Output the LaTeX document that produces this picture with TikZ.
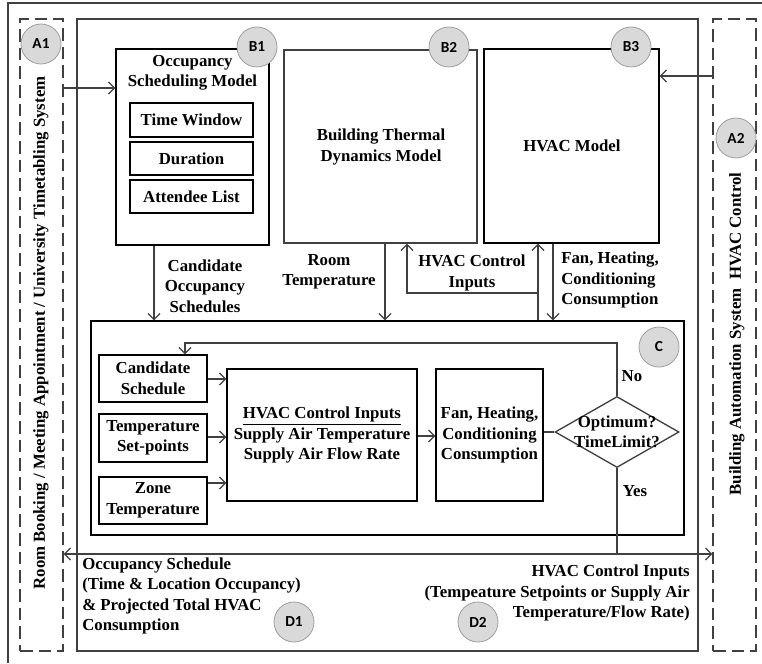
\documentclass[tikz,border=0pt]{standalone}
\usepackage{fontspec}
\setmainfont{Liberation Serif}
\newfontfamily\tagfont{Carlito}
\usetikzlibrary{arrows.meta}
\usetikzlibrary{shapes.geometric}
\usetikzlibrary{positioning}
\definecolor{linegray}{rgb}{0.25,0.25,0.25}
\definecolor{taggray}{rgb}{0.85,0.85,0.85}
\definecolor{tagedge}{rgb}{0.62,0.62,0.62}

\begin{document}
\begin{tikzpicture}[x=0.75pt,y=-0.75pt,
  every node/.style={font=\bfseries\fontsize{12.6}{15.4}\selectfont,inner sep=0pt},
  box/.style={draw=black,line width=1pt},
  grayframe/.style={draw=linegray,line width=1pt},
  sideframe/.style={draw=linegray,line width=1pt,dash pattern=on 9.5pt off 4.5pt},
  tag/.style={circle,draw=tagedge,fill=taggray,line width=0.6pt,minimum size=30pt,
    font=\tagfont\bfseries\fontsize{11.5}{12}\selectfont},
  arr/.style={draw=linegray,line width=0.9pt,-{Straight Barb[length=4.5pt,width=9pt]}},
  conn/.style={draw=linegray,line width=0.9pt},
  decision/.style={diamond,draw=linegray,line width=1pt,minimum width=93pt,minimum height=53.25pt}]
\useasboundingbox (0,0) rectangle (762,663);

%% frames
\draw [grayframe] (8,663) -- (8,3) -- (762,3);
\draw [grayframe] (77,19) rectangle (698,651);
\node [sideframe,minimum width=32.25pt,minimum height=474pt] (a1) at (41.5,335) {};
\node [sideframe,minimum width=32.25pt,minimum height=474pt] (a2) at (734.5,335) {};
\node [rotate=90] (a1txt) at (41,333) {Room Booking / Meeting Appointment / University Timetabling System};
\node [rotate=90] (a2txt) at (737,334) {Building Automation System\ \ HVAC Control};

%% models
% occupancy scheduling
\node [box,minimum width=114.75pt,minimum height=147pt] (b1) at (192.5,147) {};
\node [align=center] (b1txt) at (192.5,73) {Occupancy\\Scheduling Model};
\node [box,minimum width=92.25pt,minimum height=25.5pt] (win) at (191.5,120) {Time Window};
\node [box,minimum width=92.25pt,minimum height=24.75pt] (dur) at (191.5,158.5) {Duration};
\node [box,minimum width=92.25pt,minimum height=24.75pt] (att) at (191.5,196.5) {Attendee List};
% thermal dynamics
\node [grayframe,minimum width=144.75pt,minimum height=144.75pt] (b2) at (380.5,146.5) {};
\node [align=center] (b2txt) at (381,147) {Building Thermal\\Dynamics Model};
% hvac
\node [box,minimum width=131.25pt,minimum height=145.5pt] (b3) at (571.5,146) {};
\node (b3txt) at (572,146) {HVAC Model};

%% optimisation
\node [box,minimum width=444.75pt,minimum height=160.5pt] (c) at (387.5,428) {};
\node [box,minimum width=81pt,minimum height=35.25pt,align=center] (cand) at (153,378.5) {Candidate\\Schedule};
\node [box,minimum width=81pt,minimum height=36pt,align=center] (setp) at (153,438) {Temperature\\Set-points};
\node [box,minimum width=81pt,minimum height=35.25pt,align=center] (zone) at (153,500.5) {Zone\\Temperature};
\node [box,minimum width=142.5pt,minimum height=99pt,align=center] (ctrl) at (322,435)
  {\underline{HVAC Control Inputs}\\Supply Air Temperature\\Supply Air Flow Rate};
\node [box,minimum width=80.25pt,minimum height=99pt,align=center] (fan) at (489.5,435)
  {Fan, Heating,\\Conditioning\\Consumption};
\node [decision] (dec) at (617,432) {};
\node [align=center] (dectxt) at (617,432) {Optimum?\\TimeLimit?};

%% connectors
% top part
\draw [arr] (a1.east |- 0,88) -- (b1.west |- 0,88);
\draw [arr] (a2.west |- 0,76) -- (b3.east |- 0,76);
\draw [arr] (b1.south -| 154,0) -- (c.north -| 154,0);
\draw [arr] (b2.south -| 385,0) -- (c.north -| 385,0);
\draw [arr] (c.north -| 538,0) -- (b3.south -| 538,0);
\coordinate (split) at (538,293);
\draw [arr] (split) -| (b2.south -| 407,0);
\draw [arr] (b3.south -| 553,0) -- (c.north -| 553,0);
% inside
\draw [arr] (cand.east |- 0,379) -- (ctrl.west |- 0,379);
\draw [arr] (setp.east |- 0,437) -- (ctrl.west |- 0,437);
\draw [arr] (zone.east |- 0,483) -- (ctrl.west |- 0,483);
\draw [arr] (ctrl.east |- 0,436) -- (fan.west |- 0,436);
\draw [conn] (fan.east |- dec.west) -- (dec.west);
\draw [arr] (dec.north) |- (185,343) -- (cand.north -| 185,0);
\draw [conn] (dec.south) -- (dec.south |- 0,554);
% bottom
\draw [arr,{Straight Barb[length=4.5pt,width=9pt]}-{Straight Barb[length=4.5pt,width=9pt]}]
  (a1.east |- 0,554) -- (a2.west |- 0,554);

%% labels
\node [align=center] (lcand) at (205,286) {Candidate\\Occupancy\\Schedules};
\node [align=center] (lroom) at (329,272) {Room\\Temperature};
\node [align=center] (lctrl) at (472,273) {HVAC Control\\Inputs};
\node [align=left,anchor=west] (lfan) at (561,280) {Fan, Heating,\\Conditioning\\Consumption};
\node (lno) at (632,376) {No};
\node (lyes) at (635,491) {Yes};
\node [align=left,anchor=west] (ld1) at (82,596) {Occupancy Schedule\\(Time \& Location Occupancy)\\\& Projected Total HVAC\\Consumption};
\node [align=right,anchor=east] (ld2) at (690,593) {HVAC Control Inputs\\(Tempeature Setpoints or Supply Air\\Temperature/Flow Rate)};

%% tags
\node [tag] (ta1) at (41,44) {A1};
\node [tag] (ta2) at (736,138) {A2};
\node [tag] (tb1) at (257,47) {B1};
\node [tag] (tb2) at (449,47) {B2};
\node [tag] (tb3) at (631,47) {B3};
\node [tag] (tc) at (659,347) {C};
\node [tag] (td1) at (294,622) {D1};
\node [tag] (td2) at (478,622) {D2};

\end{tikzpicture}
\end{document}
